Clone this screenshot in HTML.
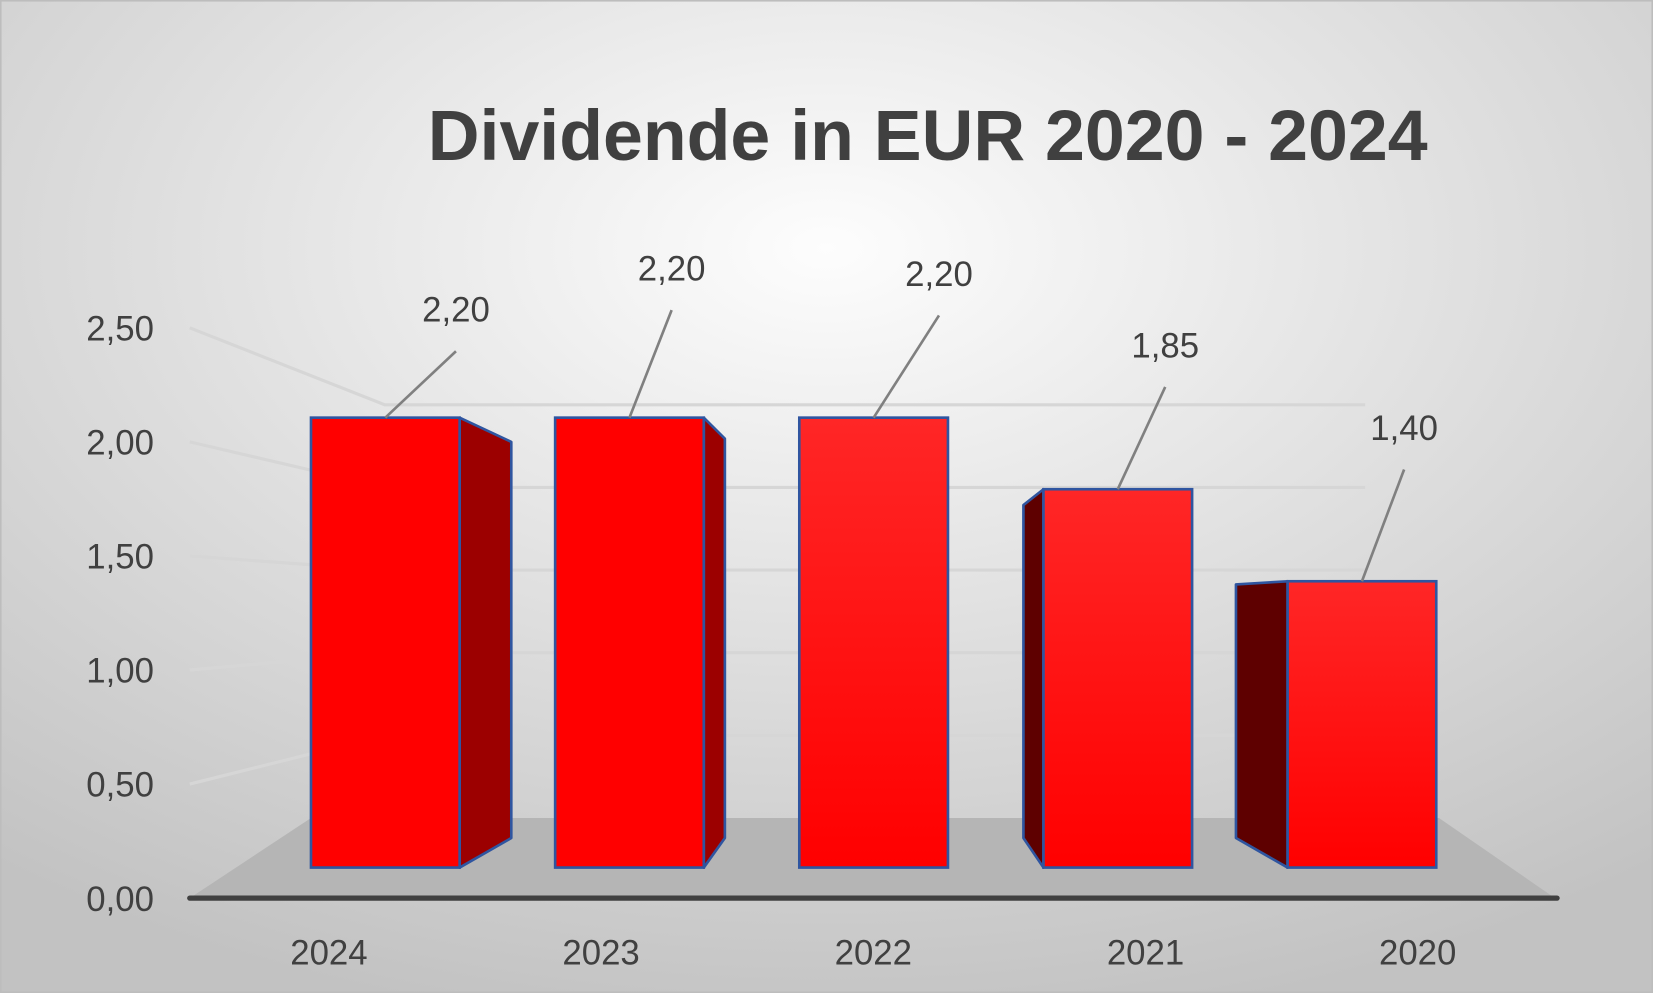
<!DOCTYPE html>
<html><head><meta charset="utf-8"><style>
html,body{margin:0;padding:0;width:1653px;height:993px;overflow:hidden;background:#ccc}
svg{display:block;font-family:"Liberation Sans","DejaVu Sans",sans-serif}
</style></head><body>
<svg id="chart" width="1653" height="993" viewBox="0 0 1568 942" preserveAspectRatio="none" xmlns="http://www.w3.org/2000/svg">
<defs>
<radialGradient id="bg" cx="0.5" cy="0.25" r="0.8">
<stop offset="0" stop-color="#fdfdfd"/><stop offset="0.55" stop-color="#dcdcdc"/><stop offset="1" stop-color="#c2c2c2"/>
</radialGradient>
<linearGradient id="barg" x1="0" y1="0" x2="0" y2="1"><stop offset="0" stop-color="#ff2626"/><stop offset="1" stop-color="#ff0000"/></linearGradient>
</defs>
<rect x="0" y="0" width="1568" height="942" fill="url(#bg)" stroke="#bdbdbd" stroke-width="3"/>
<text x="880" y="152" text-anchor="middle" font-size="68" font-weight="bold" fill="#404040">Dividende in EUR 2020 - 2024</text>
<g id="grid"></g>
<polygon points="180,852 295,776 1365,776 1475,852" fill="#b5b5b5"/>
<line x1="180" y1="852" x2="1477" y2="852" stroke="#404040" stroke-width="5" stroke-linecap="round"/>
<g id="yticks"></g>
<g id="bars"></g>
<g id="xticks"></g>
</svg>
<script>
const years = ["2024","2023","2022","2021","2020"];
const values = [2.20, 2.20, 2.20, 1.85, 1.40];
const valueLabels = ["2,20","2,20","2,20","1,85","1,40"];
const yTicks = [0, 0.5, 1, 1.5, 2, 2.5];
const yTickLabels = ["0,00","0,50","1,00","1,50","2,00","2,50"];

const NS = "http://www.w3.org/2000/svg";
function mk(tag, attrs, parent){const e=document.createElementNS(NS,tag);for(const k in attrs)e.setAttribute(k,attrs[k]);parent.appendChild(e);return e;}
const barBase = 823, barScale = 194, depthDrop = 28;
function barY(v){return barBase - v*barScale;}
function tickY(v){return 852 - v*216.4;}
function wallY(v){return 776 - v*156.8;}
function barX(i){return 295 + i*231.6;}
const barW = 141;
const sideDx = [49, 20, 0, -19, -49];
const sideTopDy = [23, 20, 0, 15, 3];
const labelDx = [67, 40, 62, 45, 40];
const labelDy = [-103, -142, -137, -137, -146];

const grid = document.getElementById('grid');
yTicks.forEach((t,i)=>{
  if(i===0) return;
  const y = tickY(t);
  const hy = wallY(t);
  const l = mk('polyline',{points:`180,${y} 365,${hy} 1295,${hy}`,fill:'none',stroke:'#d6d6d6','stroke-width':3},grid);
  
  
});
const yt = document.getElementById('yticks');
yTicks.forEach((t,i)=>{
  const tx = mk('text',{x:146,y:tickY(t)+12,'text-anchor':'end','font-size':33,fill:'#404040'},yt);
  tx.textContent = yTickLabels[i];
  
  
});
const bars = document.getElementById('bars');
const xt = document.getElementById('xticks');
values.forEach((v,i)=>{
  const x = barX(i), y = barY(v), d = sideDx[i];
  if(d!==0){
    const ex = d>0 ? x+barW : x;
    const side = mk('polygon',{points:`${ex},${y} ${ex+d},${y+sideTopDy[i]} ${ex+d},${barBase-depthDrop} ${ex},${barBase}`,fill:d>0?'#9c0000':'#5e0000',stroke:'#2f55a0','stroke-width':2.5,'stroke-linejoin':'round'},bars);
    
    
  }
  const r = mk('rect',{x:x,y:y,width:barW,height:barBase-y,fill:i<2?'#ff0000':'url(#barg)',stroke:'#2f55a0','stroke-width':2.5},bars);
  
  
  const cx = x + barW/2;
  const lx = cx + labelDx[i], ly = y + labelDy[i];
  const ln = mk('line',{x1:cx,y1:y,x2:lx,y2:ly+40},bars);
  ln.setAttribute('stroke','#808080');ln.setAttribute('stroke-width','2.5');
  
  
  const lt = mk('text',{x:lx,y:ly+12,'text-anchor':'middle','font-size':33,fill:'#404040'},bars);
  lt.textContent = valueLabels[i];
  
  
  const xl = mk('text',{x:312+i*258.2,y:915,'text-anchor':'middle','font-size':33,fill:'#404040'},xt);
  xl.textContent = years[i];
  
  
});
</script>
</body></html>
